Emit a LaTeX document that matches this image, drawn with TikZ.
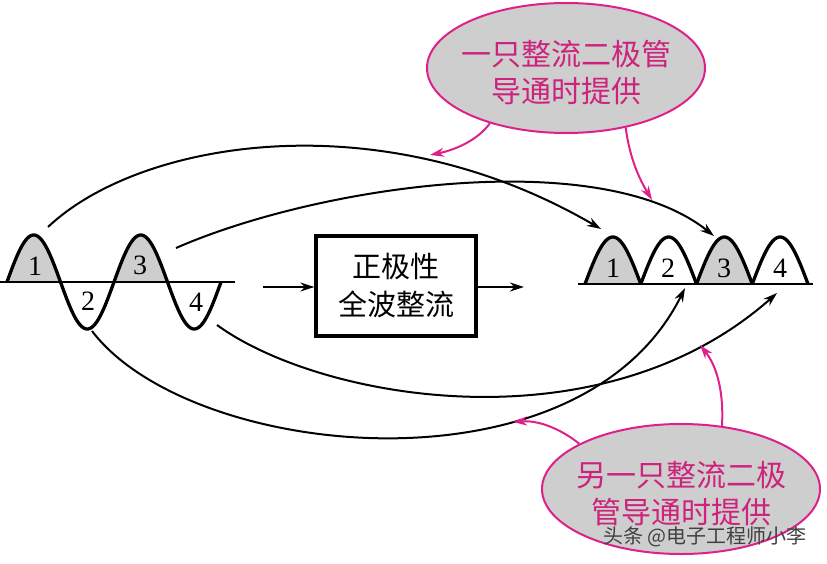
\documentclass[tikz,border=0pt]{standalone}
\usepackage{fontspec}
\setmainfont{Liberation Serif}
\newfontfamily\cjk{Noto Sans CJK SC}
\usetikzlibrary{arrows.meta,shapes.geometric}
\definecolor{pinkline}{RGB}{222,32,138}
\definecolor{pinktext}{RGB}{205,35,125}
\definecolor{fillgray}{RGB}{206,206,206}
\tikzset{
  wave/.style={line width=3.3pt, line join=round},
  base/.style={line width=2pt},
  conn/.style={line width=2pt, -{Stealth[length=14pt,width=9pt,inset=4.5pt]}},
  pconn/.style={line width=2pt, draw=pinkline, -{Stealth[length=14pt,width=9pt,inset=4.5pt]}, pinkline},
  num/.style={font=\fontsize{28}{28}\selectfont, inner sep=0pt},
  bubble/.style={ellipse, draw=pinkline, line width=2pt, fill=fillgray,
    text=pinktext, font=\cjk\fontsize{30}{37}\selectfont, align=center,
    minimum width=278pt, minimum height=130pt, inner xsep=-8pt, inner ysep=0pt},
  procbox/.style={draw, line width=3.3pt, minimum width=160pt, minimum height=100pt,
    font=\cjk\fontsize{29}{38}\selectfont, align=center, inner sep=0pt}
}
\begin{document}
\begin{tikzpicture}[x=1pt,y=-1pt]
\useasboundingbox (0,0) rectangle (827,564);
% ---- input wave ----
\fill[fillgray] (7,282) -- plot[domain=7:60.5,samples=40] (\x,{282-47*sin((\x-7)/53.5*180)}) -- cycle;
\fill[fillgray] (114,282) -- plot[domain=114:167.5,samples=40] (\x,{282-47*sin((\x-7)/53.5*180)}) -- cycle;
\draw[base] (0,282) -- (235,282);
\draw[wave] plot[domain=7:221,samples=160,smooth] (\x,{282-47*sin((\x-7)/53.5*180)});
\node[num] (n1) at (35,266) {1};
\node[num] (n2) at (88,301) {2};
\node[num] (n3) at (140,265) {3};
\node[num] (n4) at (196,302) {4};
% ---- output wave ----
\foreach \k in {0,2} {
  \fill[fillgray] ({585+55.75*\k},284) -- plot[domain=0:55.75,samples=40] ({585+55.75*\k+\x},{284-47*sin(\x/55.75*180)}) -- cycle;
}
\draw[base] (578,284) -- (813,284);
\foreach \k in {0,1,2,3} {
  \draw[wave] plot[domain=0:55.75,samples=40,smooth] ({585+55.75*\k+\x},{284-47*sin(\x/55.75*180)});
}
\node[num] (m1) at (613,268) {1};
\node[num] (m2) at (668,268) {2};
\node[num] (m3) at (724,268) {3};
\node[num] (m4) at (780,268) {4};
% ---- box ----
\node[procbox] (box) at (396,286) {正极性\\全波整流};
\coordinate (inL) at (263,287);
\coordinate (outR) at (524,287);
\draw[conn] (inL) -- (box.west |- inL);
\draw[conn] (box.east |- outR) -- (outR);
% ---- connectors ----
\coordinate (a1) at (48,227);   \coordinate (b1) at (601,229);
\coordinate (a3) at (176,248);  \coordinate (b3) at (714,236);
\coordinate (a2) at (92,331);   \coordinate (b2) at (685,288);
\coordinate (a4) at (217,325);  \coordinate (b4) at (777,293);
\draw[conn] (a1) .. controls (140,140) and (380,100) .. (b1);
\draw[conn] (a3) .. controls (320,185) and (600,145) .. (b3);
\draw[conn] (a2) .. controls (190,460) and (580,500) .. (b2);
\draw[conn] (a4) .. controls (320,400) and (600,450) .. (b4);
% ---- bubbles ----
\node[bubble] (top) at (566,68) {\rule{0pt}{34pt}一只整流二极管\\导通时提供};
\node[bubble] (bot) at (681,489) {\rule{0pt}{34pt}另一只整流二极\\管导通时提供};
\coordinate (p1) at (430,155);
\coordinate (p2) at (652,200);
\coordinate (p3) at (513,422);
\coordinate (p4) at (700,345);
\draw[pconn] (top.-144) .. controls (478,140) and (455,150) .. (p1);
\draw[pconn] (top.-45) .. controls (630,160) and (640,180) .. (p2);
\draw[pconn] (bot.156) .. controls (562,430) and (540,420) .. (p3);
\draw[pconn] (bot.57) .. controls (724,390) and (716,365) .. (p4);
% ---- watermark ----
\node[font=\cjk\fontsize{20}{20}\selectfont, text=black!75, inner sep=0pt] (wm) at (705,537) {头条 @电子工程师小李};
\end{tikzpicture}
\end{document}
